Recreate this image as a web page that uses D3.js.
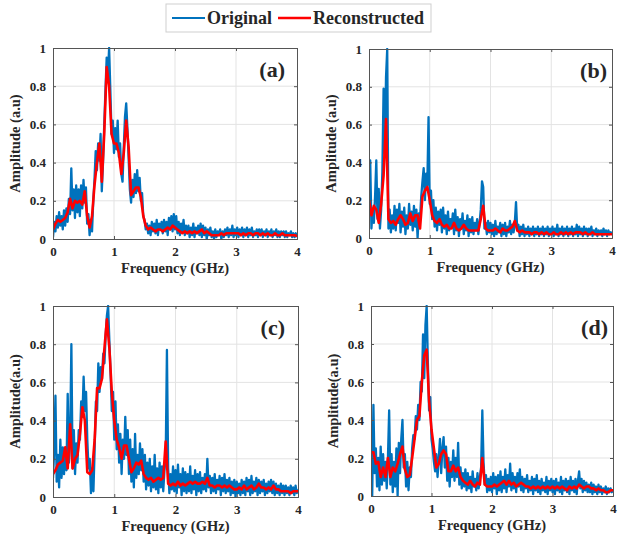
<!DOCTYPE html>
<html>
<head>
<meta charset="utf-8">
<script src="https://d3js.org/d3.v7.min.js"></script>
<style>
  body { margin: 0; background: #fff; }
  text { font-family: "Liberation Serif", "Times New Roman", serif; font-weight: bold; fill: #262626; }
</style>
</head>
<body>
<svg id="chart" width="619" height="538"></svg>
<script>
// ---- data (blue every 0.02 GHz, red every 0.04 GHz) ----
const stepOrig = 0.02, stepRec = 0.04;
const xTicks = [0, 1, 2, 3, 4];
const yTicks = [0, 0.2, 0.4, 0.6, 0.8, 1];
const panelNames = ["(a)", "(b)", "(c)", "(d)"];
const yTitles = ["Amplitude (a.u)", "Amplitude (a.u)", "Amplitude(a.u)", "Amplitude(a.u)"];
const xTitle = "Frequency (GHz)";
const seriesNames = ["Original", "Reconstructed"];

const origA = [
  0.01,0.09,0.04,0.12,0.06,0.14,0.07,0.12,0.05,0.15,
  0.07,0.16,0.09,0.21,0.13,0.37,0.15,0.26,0.11,0.28,
  0.14,0.26,0.12,0.28,0.16,0.31,0.19,0.27,0.08,0.13,
  0.02,0.10,0.04,0.20,0.31,0.46,0.36,0.50,0.41,0.55,
  0.25,0.40,0.60,0.78,0.95,0.86,1.00,0.78,0.55,0.62,
  0.45,0.58,0.47,0.62,0.43,0.50,0.34,0.30,0.48,0.64,
  0.71,0.58,0.42,0.26,0.19,0.31,0.22,0.34,0.24,0.36,
  0.25,0.32,0.20,0.24,0.12,0.10,0.05,0.08,0.03,0.07,
  0.02,0.09,0.04,0.08,0.03,0.10,0.02,0.08,0.05,0.09,
  0.03,0.10,0.04,0.09,0.02,0.11,0.05,0.12,0.04,0.13,
  0.05,0.12,0.03,0.09,0.02,0.08,0.04,0.10,0.02,0.07,
  0.03,0.07,0.01,0.06,0.02,0.08,0.01,0.06,0.03,0.07,
  0.02,0.08,0.01,0.07,0.02,0.06,0.00,0.05,0.02,0.06,
  0.01,0.04,0.00,0.05,0.01,0.04,0.02,0.05,0.00,0.04,
  0.01,0.05,0.02,0.06,0.01,0.05,0.02,0.07,0.01,0.05,
  0.02,0.06,0.01,0.05,0.02,0.06,0.01,0.05,0.02,0.06,
  0.01,0.05,0.02,0.06,0.01,0.04,0.02,0.05,0.01,0.05,
  0.02,0.05,0.01,0.04,0.02,0.05,0.01,0.04,0.02,0.05,
  0.01,0.04,0.02,0.05,0.01,0.04,0.01,0.04,0.02,0.04,
  0.01,0.04,0.01,0.03,0.02,0.04,0.01,0.03,0.01,0.03,0.01
];
const recA = [
  0.05,0.08,0.10,0.09,0.10,0.11,0.14,0.21,0.16,0.20,
  0.19,0.20,0.18,0.25,0.12,0.06,0.12,0.28,0.40,0.50,
  0.30,0.55,0.90,0.80,0.55,0.50,0.50,0.45,0.34,0.45,
  0.62,0.48,0.23,0.25,0.27,0.27,0.22,0.12,0.07,0.05,
  0.06,0.05,0.04,0.05,0.05,0.04,0.05,0.06,0.05,0.07,
  0.06,0.05,0.04,0.03,0.04,0.03,0.04,0.03,0.04,0.03,
  0.04,0.05,0.03,0.04,0.03,0.02,0.02,0.02,0.02,0.03,
  0.02,0.03,0.03,0.03,0.03,0.03,0.03,0.02,0.03,0.02,
  0.03,0.03,0.02,0.03,0.03,0.02,0.03,0.02,0.03,0.02,
  0.02,0.03,0.02,0.02,0.03,0.02,0.02,0.02,0.02,0.02,0.015
];

const origB = [
  0.20,0.41,0.05,0.15,0.08,0.22,0.41,0.10,0.26,0.05,
  0.15,0.35,0.79,0.45,0.85,1.00,0.05,0.15,0.03,0.12,
  0.05,0.17,0.04,0.15,0.08,0.18,0.03,0.14,0.06,0.16,
  0.02,0.12,0.05,0.18,0.07,0.14,0.04,0.17,0.06,0.15,
  0.00,0.13,0.10,0.22,0.30,0.37,0.20,0.34,0.28,0.64,
  0.18,0.25,0.10,0.20,0.06,0.16,0.04,0.14,0.07,0.15,
  0.03,0.16,0.05,0.12,0.02,0.14,0.04,0.10,0.06,0.13,
  0.02,0.15,0.04,0.11,0.01,0.10,0.05,0.13,0.02,0.09,
  0.04,0.12,0.01,0.10,0.03,0.11,0.02,0.08,0.04,0.10,
  0.02,0.08,0.15,0.30,0.27,0.05,0.08,0.02,0.09,0.03,
  0.08,0.02,0.07,0.01,0.09,0.02,0.06,0.03,0.08,0.01,
  0.07,0.02,0.08,0.01,0.06,0.03,0.09,0.02,0.07,0.03,
  0.08,0.19,0.04,0.07,0.01,0.06,0.02,0.07,0.01,0.05,
  0.02,0.06,0.01,0.05,0.02,0.06,0.01,0.05,0.02,0.06,
  0.01,0.05,0.02,0.06,0.01,0.05,0.02,0.06,0.01,0.05,
  0.02,0.06,0.01,0.05,0.02,0.07,0.01,0.05,0.02,0.06,
  0.01,0.05,0.02,0.06,0.01,0.05,0.02,0.06,0.01,0.05,
  0.02,0.07,0.01,0.06,0.02,0.05,0.01,0.06,0.02,0.05,
  0.01,0.05,0.02,0.06,0.01,0.04,0.02,0.05,0.01,0.04,
  0.02,0.04,0.01,0.05,0.02,0.04,0.01,0.04,0.02,0.03,0.02
];
const recB = [
  0.20,0.12,0.17,0.15,0.08,0.18,0.33,0.63,0.10,0.08,
  0.09,0.07,0.10,0.12,0.10,0.07,0.08,0.13,0.09,0.12,
  0.12,0.05,0.22,0.25,0.27,0.20,0.12,0.09,0.08,0.10,
  0.07,0.06,0.07,0.05,0.05,0.08,0.05,0.04,0.05,0.07,
  0.05,0.04,0.04,0.04,0.04,0.04,0.10,0.17,0.05,0.04,
  0.04,0.04,0.05,0.04,0.03,0.05,0.04,0.04,0.05,0.06,
  0.09,0.04,0.03,0.04,0.03,0.03,0.03,0.02,0.03,0.03,
  0.02,0.03,0.02,0.03,0.02,0.02,0.03,0.02,0.02,0.03,
  0.02,0.03,0.02,0.03,0.02,0.03,0.03,0.03,0.02,0.03,
  0.02,0.02,0.03,0.02,0.02,0.02,0.02,0.02,0.02,0.02,0.02
];

const origC = [
  0.10,0.25,0.53,0.08,0.22,0.05,0.30,0.10,0.26,0.12,
  0.25,0.14,0.54,0.18,0.30,0.80,0.15,0.35,0.12,0.28,
  0.18,0.35,0.30,0.50,0.42,0.63,0.45,0.55,0.30,0.15,
  0.20,0.02,0.15,0.03,0.25,0.50,0.45,0.70,0.55,0.68,
  0.62,0.75,0.70,0.85,0.95,1.00,0.82,0.65,0.45,0.55,
  0.30,0.50,0.25,0.38,0.18,0.33,0.12,0.30,0.20,0.42,
  0.22,0.35,0.12,0.30,0.08,0.25,0.05,0.33,0.10,0.22,
  0.12,0.28,0.14,0.25,0.08,0.22,0.04,0.18,0.06,0.20,
  0.03,0.16,0.05,0.22,0.04,0.15,0.02,0.18,0.05,0.16,
  0.03,0.14,0.20,0.77,0.15,0.02,0.12,0.04,0.16,0.03,
  0.14,0.02,0.17,0.05,0.12,0.01,0.15,0.03,0.13,0.02,
  0.12,0.03,0.16,0.02,0.11,0.04,0.14,0.01,0.12,0.03,
  0.13,0.02,0.10,0.04,0.12,0.03,0.20,0.05,0.11,0.02,
  0.10,0.03,0.12,0.02,0.09,0.04,0.11,0.01,0.10,0.03,
  0.12,0.02,0.09,0.03,0.10,0.01,0.08,0.02,0.09,0.00,
  0.08,0.02,0.07,0.01,0.09,0.02,0.08,0.01,0.10,0.03,
  0.09,0.01,0.11,0.02,0.08,0.03,0.10,0.01,0.09,0.02,
  0.08,0.03,0.09,0.01,0.07,0.02,0.08,0.03,0.09,0.02,
  0.08,0.01,0.07,0.02,0.06,0.01,0.07,0.02,0.06,0.01,
  0.06,0.02,0.05,0.01,0.06,0.02,0.05,0.01,0.06,0.02,0.04
];
const recC = [
  0.12,0.14,0.17,0.18,0.19,0.26,0.15,0.38,0.15,0.20,
  0.22,0.33,0.47,0.40,0.13,0.12,0.14,0.30,0.57,0.57,
  0.62,0.78,0.93,0.78,0.55,0.40,0.30,0.26,0.20,0.27,
  0.27,0.20,0.13,0.15,0.18,0.17,0.19,0.12,0.10,0.09,
  0.10,0.08,0.09,0.10,0.09,0.10,0.29,0.07,0.06,0.07,
  0.06,0.08,0.06,0.07,0.06,0.07,0.08,0.07,0.08,0.07,
  0.07,0.08,0.07,0.10,0.06,0.06,0.05,0.06,0.06,0.05,
  0.06,0.05,0.06,0.05,0.04,0.04,0.05,0.04,0.06,0.04,
  0.05,0.06,0.04,0.05,0.07,0.05,0.05,0.04,0.05,0.04,
  0.06,0.04,0.04,0.03,0.03,0.03,0.03,0.02,0.03,0.03,0.03
];

const origD = [
  0.22,0.00,0.48,0.12,0.25,0.05,0.20,0.03,0.26,0.06,
  0.22,0.08,0.18,0.04,0.20,0.45,0.06,0.22,0.02,0.18,
  0.05,0.25,0.00,0.28,0.12,0.30,0.40,0.15,0.22,0.05,
  0.18,0.03,0.15,0.10,0.25,0.32,0.30,0.42,0.35,0.48,
  0.40,0.60,0.55,0.85,0.62,0.90,1.00,0.70,0.45,0.52,
  0.30,0.25,0.18,0.13,0.22,0.10,0.20,0.30,0.12,0.25,
  0.31,0.15,0.26,0.08,0.20,0.05,0.18,0.10,0.24,0.08,
  0.20,0.10,0.28,0.06,0.15,0.04,0.12,0.05,0.14,0.03,
  0.12,0.04,0.10,0.02,0.13,0.05,0.09,0.03,0.12,0.04,
  0.10,0.15,0.45,0.18,0.06,0.11,0.02,0.09,0.03,0.10,
  0.02,0.12,0.04,0.10,0.01,0.11,0.03,0.13,0.02,0.10,
  0.04,0.14,0.02,0.11,0.05,0.17,0.03,0.12,0.04,0.10,
  0.02,0.12,0.05,0.14,0.03,0.10,0.02,0.09,0.04,0.11,
  0.02,0.08,0.03,0.10,0.01,0.09,0.03,0.11,0.02,0.08,
  0.01,0.09,0.03,0.07,0.02,0.10,0.01,0.08,0.03,0.09,
  0.02,0.08,0.01,0.09,0.03,0.07,0.02,0.10,0.01,0.08,
  0.03,0.09,0.02,0.08,0.01,0.10,0.03,0.08,0.02,0.09,
  0.01,0.08,0.13,0.04,0.09,0.02,0.08,0.03,0.07,0.02,
  0.06,0.02,0.07,0.01,0.06,0.02,0.05,0.01,0.06,0.02,
  0.05,0.01,0.04,0.02,0.05,0.01,0.04,0.02,0.04,0.02,0.03
];
const recD = [
  0.23,0.23,0.17,0.18,0.10,0.15,0.10,0.20,0.10,0.15,
  0.13,0.17,0.22,0.26,0.14,0.10,0.11,0.20,0.30,0.40,
  0.42,0.60,0.74,0.77,0.50,0.35,0.25,0.15,0.17,0.22,
  0.24,0.22,0.13,0.13,0.16,0.13,0.15,0.10,0.08,0.07,
  0.06,0.08,0.06,0.05,0.07,0.06,0.20,0.06,0.05,0.05,
  0.05,0.06,0.05,0.06,0.07,0.08,0.06,0.08,0.06,0.07,
  0.05,0.06,0.07,0.06,0.05,0.05,0.04,0.05,0.04,0.05,
  0.04,0.05,0.04,0.05,0.04,0.05,0.04,0.05,0.04,0.05,
  0.04,0.03,0.05,0.04,0.05,0.04,0.06,0.05,0.04,0.05,
  0.05,0.04,0.04,0.03,0.04,0.03,0.03,0.02,0.02,0.03,0.03
];

// ---- layout ----
const blue = "#0072BD", red = "#FF0000";
const panels = [
  { orig: origA, rec: recA, name: panelNames[0], ytitle: yTitles[0], left: 53,  top: 48,  w: 244, h: 191, labRight: 12 },
  { orig: origB, rec: recB, name: panelNames[1], ytitle: yTitles[1], left: 369, top: 49,  w: 243, h: 189, labRight: 5 },
  { orig: origC, rec: recC, name: panelNames[2], ytitle: yTitles[2], left: 53,  top: 306, w: 245, h: 191, labRight: 13 },
  { orig: origD, rec: recD, name: panelNames[3], ytitle: yTitles[3], left: 371, top: 306, w: 242, h: 190, labRight: 5 }
];

const svg = d3.select("#chart");

panels.forEach(function(p, k) {
  const g = svg.append("g").attr("transform", `translate(${p.left},${p.top})`);
  const x = d3.scaleLinear().domain([0, 4]).range([0, p.w]);
  const y = d3.scaleLinear().domain([0, 1]).range([p.h, 0]);

  // grid
  g.append("g").selectAll("line").data(xTicks.slice(1, -1)).join("line")
    .attr("x1", d => x(d)).attr("x2", d => x(d)).attr("y1", 0).attr("y2", p.h)
    .attr("stroke", "#e3e3e3").attr("stroke-width", 1);
  g.append("g").selectAll("line").data(yTicks.slice(1, -1)).join("line")
    .attr("y1", d => y(d)).attr("y2", d => y(d)).attr("x1", 0).attr("x2", p.w)
    .attr("stroke", "#e3e3e3").attr("stroke-width", 1);

  g.append("clipPath").attr("id", "clip" + k)
    .append("rect").attr("x", 0).attr("y", -1).attr("width", p.w).attr("height", p.h + 1);

  const line = d3.line().x(d => x(d[0])).y(d => y(d[1]));
  const origPts = p.orig.map((v, i) => [i * stepOrig, v]);
  const recPts = p.rec.map((v, i) => [i * stepRec, v]);

  g.append("path").datum(origPts).attr("clip-path", `url(#clip${k})`)
    .attr("d", line).attr("fill", "none").attr("stroke", blue)
    .attr("stroke-width", 2.3).attr("stroke-linejoin", "round");
  g.append("path").datum(recPts).attr("clip-path", `url(#clip${k})`)
    .attr("d", line).attr("fill", "none").attr("stroke", red)
    .attr("stroke-width", 2.6).attr("stroke-linejoin", "round");

  // axes (inside ticks, box)
  g.append("g").attr("transform", `translate(0,${p.h})`)
    .call(d3.axisBottom(x).tickValues(xTicks).tickSize(-3).tickPadding(8).tickFormat(d3.format("d")));
  g.append("g")
    .call(d3.axisLeft(y).tickValues(yTicks).tickSize(-3).tickPadding(7).tickFormat(d => d === 0 || d === 1 ? d : d3.format(".1f")(d)));
  g.append("g").call(d3.axisTop(x).tickValues(xTicks).tickSize(-3).tickFormat(""));
  g.append("g").attr("transform", `translate(${p.w},0)`)
    .call(d3.axisRight(y).tickValues(yTicks).tickSize(-3).tickFormat(""));
  g.selectAll(".domain").attr("stroke", "#555");
  g.selectAll(".tick line").attr("stroke", "#555");
  g.selectAll(".tick text").style("font-size", "13px").style("font-family", "Liberation Serif").style("font-weight", "bold").attr("fill", "#262626");

  g.append("text").attr("x", p.w / 2).attr("y", p.h + 34)
    .attr("text-anchor", "middle").style("font-size", "14.5px").text(xTitle);
  g.append("text").attr("transform", `translate(-33,${p.h / 2}) rotate(-90)`)
    .attr("text-anchor", "middle").style("font-size", "14.5px").text(p.ytitle);
  g.append("text").attr("x", p.w - p.labRight).attr("y", 29)
    .attr("text-anchor", "end").style("font-size", "22px").text(p.name);
});

// legend
const leg = svg.append("g");
const legBox = leg.append("rect").attr("x", 166).attr("y", 4).attr("width", 267).attr("height", 28)
  .attr("fill", "#fff").attr("stroke", "#cfcfcf");
let lx = 172;
[blue, red].forEach(function(c, i) {
  leg.append("line").attr("x1", lx).attr("x2", lx + 33).attr("y1", 18).attr("y2", 18)
    .attr("stroke", c).attr("stroke-width", i === 0 ? 2.2 : 2.6);
  const t = leg.append("text").attr("x", lx + 35).attr("y", 24).style("font-size", "18px").text(seriesNames[i]);
  lx += 35 + t.node().getComputedTextLength() + 6;
});
legBox.attr("width", lx - 166 + 1);
</script>
</body>
</html>
